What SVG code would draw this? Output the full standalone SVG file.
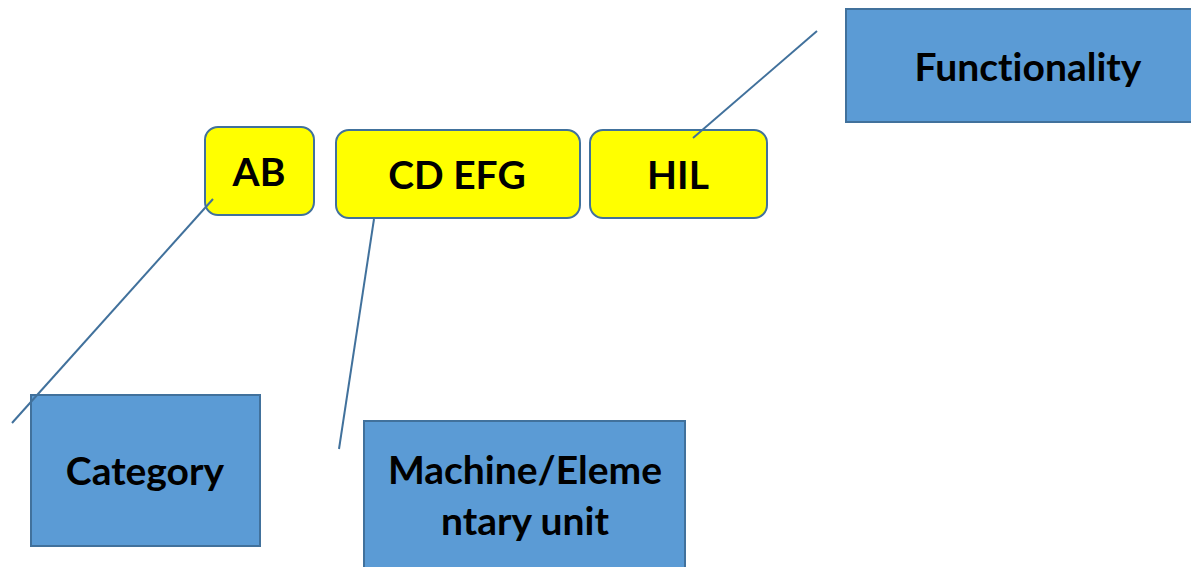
<svg xmlns="http://www.w3.org/2000/svg" width="1191" height="567" viewBox="0 0 1191 567">
  <style>
    .tag { fill: #FFFF00; stroke: #41719C; stroke-width: 2; }
    .box { fill: #5B9BD5; stroke: #41719C; stroke-width: 2; }
    .lbl { font-family: Lato, "Liberation Sans", sans-serif; font-weight: bold; font-size: 39px; fill: #000; text-anchor: middle; font-variant-ligatures: none; }
    .link { stroke: #41719C; stroke-width: 2; fill: none; }
  </style>
  <rect width="1191" height="567" fill="#FFFFFF"/>

  <!-- code segments -->
  <g id="node-ab">
    <rect class="tag" x="205" y="127" width="109" height="88" rx="13"/>
    <text class="lbl" x="259" y="186">AB</text>
  </g>
  <g id="node-cdefg">
    <rect class="tag" x="336" y="130" width="244" height="88" rx="13"/>
    <text class="lbl" x="457" y="189">CD EFG</text>
  </g>
  <g id="node-hil">
    <rect class="tag" x="590" y="130" width="177" height="88" rx="13"/>
    <text class="lbl" x="678" y="189">HIL</text>
  </g>

  <!-- descriptions -->
  <g id="node-category">
    <rect class="box" x="31" y="395" width="229" height="151"/>
    <text class="lbl" x="145" y="485">Category</text>
  </g>
  <g id="node-machine">
    <rect class="box" x="364" y="421" width="321" height="160"/>
    <text class="lbl" x="525" y="484">Machine/Eleme</text>
    <text class="lbl" x="525" y="535">ntary unit</text>
  </g>
  <g id="node-functionality">
    <rect class="box" x="846" y="9" width="350" height="113"/>
    <text class="lbl" x="1028" y="81">Functionality</text>
  </g>

  <!-- leader lines, drawn over the boxes -->
  <g id="connectors">
    <line class="link" x1="213" y1="199" x2="12" y2="423"/>
    <line class="link" x1="374" y1="219" x2="339" y2="449"/>
    <line class="link" x1="693" y1="138" x2="817" y2="31"/>
  </g>
</svg>
